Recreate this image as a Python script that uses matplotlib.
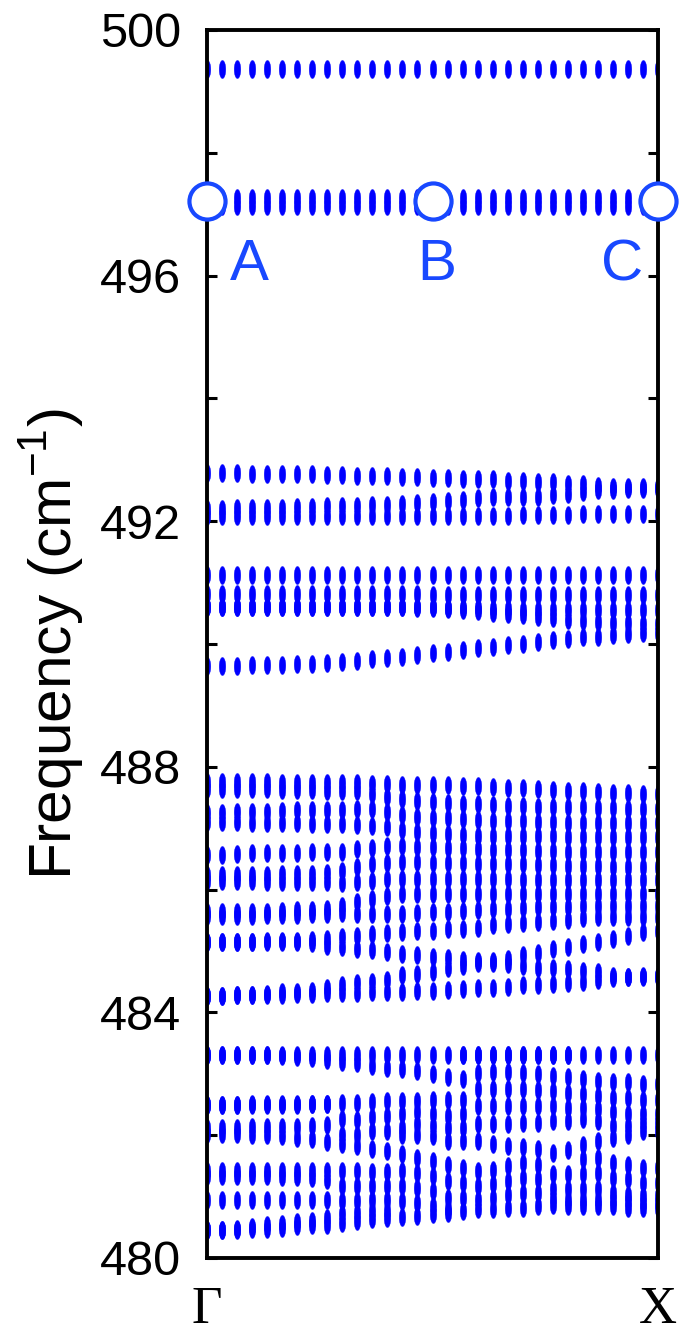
import numpy as np
import matplotlib.pyplot as plt
from matplotlib.path import Path

plt.rcParams['font.family'] = ['Liberation Sans', 'DejaVu Sans']
plt.rcParams['mathtext.fontset'] = 'custom'
plt.rcParams['mathtext.rm'] = 'Liberation Sans'

# 31 wavevectors along Gamma -> X
k = np.linspace(0, 1, 31)

# flat bands at the top
top_a = [499.37, 499.37, 499.37, 499.37, 499.37, 499.37, 499.37, 499.37, 499.37, 499.37, 499.37,
         499.37, 499.37, 499.37, 499.37, 499.37, 499.37, 499.37, 499.37, 499.37, 499.37,
         499.37, 499.37, 499.37, 499.37, 499.37, 499.37, 499.37, 499.37, 499.37, 499.37]
top_b = [497.26, 497.26, 497.26, 497.26, 497.26, 497.26, 497.26, 497.26, 497.26, 497.26, 497.26,
         497.26, 497.26, 497.26, 497.26, 497.26, 497.26, 497.26, 497.26, 497.26, 497.26,
         497.26, 497.26, 497.26, 497.26, 497.26, 497.26, 497.26, 497.26, 497.26, 497.26]
top_c = [497.14, 497.14, 497.14, 497.14, 497.14, 497.14, 497.14, 497.14, 497.14, 497.14, 497.14,
         497.14, 497.14, 497.14, 497.14, 497.14, 497.14, 497.14, 497.14, 497.14, 497.14,
         497.14, 497.14, 497.14, 497.14, 497.14, 497.14, 497.14, 497.14, 497.14, 497.14]

# bands around 492-493
g492_a = [492.78, 492.78, 492.78, 492.77, 492.77, 492.76, 492.76, 492.76, 492.75, 492.75, 492.74,
          492.74, 492.73, 492.72, 492.72, 492.71, 492.70, 492.69, 492.68, 492.68, 492.66,
          492.65, 492.64, 492.63, 492.61, 492.60, 492.58, 492.56, 492.56, 492.55, 492.55]
g492_b = [492.20, 492.20, 492.21, 492.21, 492.22, 492.22, 492.23, 492.23, 492.24, 492.24, 492.25,
          492.26, 492.27, 492.28, 492.29, 492.31, 492.33, 492.35, 492.37, 492.39, 492.39,
          492.39, 492.40, 492.42, 492.45, 492.48, 492.50, 492.51, 492.52, 492.52, 492.52]
g492_c = [492.09, 492.09, 492.09, 492.09, 492.09, 492.09, 492.09, 492.09, 492.09, 492.09, 492.09,
          492.09, 492.09, 492.09, 492.09, 492.09, 492.09, 492.09, 492.09, 492.09, 492.09,
          492.10, 492.10, 492.10, 492.10, 492.12, 492.12, 492.12, 492.12, 492.12, 492.12]

# bands around 490-491
g490_a = [491.13, 491.13, 491.13, 491.13, 491.13, 491.13, 491.13, 491.13, 491.13, 491.13, 491.13,
          491.13, 491.13, 491.13, 491.13, 491.13, 491.13, 491.13, 491.13, 491.13, 491.13,
          491.13, 491.13, 491.13, 491.13, 491.13, 491.13, 491.13, 491.13, 491.13, 491.13]
g490_b = [490.81, 490.81, 490.81, 490.81, 490.81, 490.81, 490.81, 490.81, 490.81, 490.81, 490.81,
          490.81, 490.81, 490.81, 490.81, 490.80, 490.80, 490.80, 490.80, 490.80, 490.80,
          490.80, 490.80, 490.80, 490.80, 490.80, 490.80, 490.80, 490.80, 490.80, 490.80]
g490_c = [490.61, 490.61, 490.61, 490.61, 490.61, 490.61, 490.61, 490.61, 490.61, 490.61, 490.61,
          490.61, 490.61, 490.61, 490.60, 490.60, 490.59, 490.58, 490.58, 490.57, 490.57,
          490.56, 490.56, 490.56, 490.56, 490.56, 490.56, 490.56, 490.56, 490.56, 490.56]
g490_d = [490.61, 490.61, 490.61, 490.61, 490.61, 490.61, 490.61, 490.61, 490.61, 490.61, 490.61,
          490.61, 490.60, 490.60, 490.59, 490.58, 490.57, 490.55, 490.53, 490.50, 490.49,
          490.47, 490.44, 490.42, 490.39, 490.37, 490.35, 490.34, 490.34, 490.33, 490.33]
g490_e = [489.64, 489.64, 489.64, 489.65, 489.65, 489.66, 489.67, 489.68, 489.69, 489.70, 489.73,
          489.75, 489.77, 489.79, 489.82, 489.85, 489.87, 489.90, 489.93, 489.95, 489.98,
          490.00, 490.04, 490.06, 490.08, 490.11, 490.12, 490.14, 490.16, 490.18, 490.18]

# bands between 484 and 488
g486_01 = [487.76, 487.76, 487.76, 487.75, 487.75, 487.74, 487.74, 487.74, 487.74, 487.73, 487.73,
           487.72, 487.72, 487.71, 487.71, 487.70, 487.70, 487.68, 487.68, 487.67, 487.66,
           487.65, 487.64, 487.62, 487.61, 487.60, 487.59, 487.58, 487.57, 487.56, 487.56]
g486_02 = [487.64, 487.64, 487.64, 487.63, 487.63, 487.62, 487.62, 487.62, 487.61, 487.61, 487.60,
           487.56, 487.51, 487.47, 487.45, 487.43, 487.41, 487.40, 487.39, 487.37, 487.36,
           487.36, 487.35, 487.35, 487.34, 487.34, 487.33, 487.33, 487.32, 487.32, 487.32]
g486_03 = [487.25, 487.25, 487.26, 487.27, 487.27, 487.28, 487.29, 487.29, 487.30, 487.30, 487.31,
           487.31, 487.27, 487.22, 487.19, 487.17, 487.16, 487.15, 487.13, 487.12, 487.11,
           487.11, 487.10, 487.10, 487.09, 487.09, 487.08, 487.08, 487.08, 487.08, 487.08]
g486_04 = [487.10, 487.10, 487.10, 487.09, 487.09, 487.08, 487.08, 487.07, 487.06, 487.06, 487.05,
           487.04, 487.02, 486.97, 486.94, 486.92, 486.90, 486.89, 486.88, 486.88, 486.87,
           486.87, 486.87, 486.87, 486.86, 486.86, 486.86, 486.86, 486.86, 486.86, 486.86]
g486_05 = [486.57, 486.57, 486.58, 486.59, 486.59, 486.60, 486.60, 486.61, 486.61, 486.62, 486.66,
           486.68, 486.71, 486.71, 486.70, 486.69, 486.68, 486.67, 486.66, 486.65, 486.65,
           486.64, 486.63, 486.63, 486.62, 486.62, 486.62, 486.61, 486.61, 486.61, 486.61]
g486_06 = [486.23, 486.23, 486.23, 486.24, 486.24, 486.25, 486.25, 486.26, 486.27, 486.31, 486.37,
           486.41, 486.43, 486.45, 486.45, 486.44, 486.44, 486.43, 486.42, 486.42, 486.41,
           486.41, 486.40, 486.40, 486.39, 486.38, 486.38, 486.37, 486.37, 486.37, 486.37]
g486_07 = [486.14, 486.14, 486.14, 486.14, 486.13, 486.13, 486.13, 486.13, 486.12, 486.11, 486.12,
           486.14, 486.17, 486.18, 486.18, 486.18, 486.18, 486.18, 486.17, 486.17, 486.17,
           486.16, 486.16, 486.16, 486.16, 486.15, 486.15, 486.15, 486.15, 486.15, 486.15]
g486_08 = [485.63, 485.63, 485.63, 485.64, 485.64, 485.65, 485.66, 485.67, 485.69, 485.73, 485.79,
           485.85, 485.89, 485.92, 485.93, 485.93, 485.93, 485.93, 485.93, 485.93, 485.93,
           485.93, 485.93, 485.93, 485.93, 485.93, 485.93, 485.93, 485.93, 485.93, 485.93]
g486_09 = [485.57, 485.57, 485.57, 485.57, 485.58, 485.58, 485.59, 485.60, 485.60, 485.62, 485.61,
           485.61, 485.61, 485.61, 485.62, 485.63, 485.64, 485.65, 485.67, 485.68, 485.69,
           485.70, 485.71, 485.71, 485.72, 485.73, 485.73, 485.74, 485.74, 485.74, 485.74]
g486_10 = [485.15, 485.15, 485.15, 485.15, 485.16, 485.16, 485.17, 485.18, 485.20, 485.22, 485.25,
           485.28, 485.30, 485.31, 485.32, 485.33, 485.35, 485.36, 485.38, 485.42, 485.44,
           485.45, 485.47, 485.49, 485.51, 485.53, 485.55, 485.55, 485.56, 485.56, 485.56]
g486_11 = [485.15, 485.15, 485.15, 485.15, 485.15, 485.15, 485.14, 485.13, 485.08, 485.06, 485.03,
           485.01, 484.98, 484.95, 484.94, 484.91, 484.88, 484.86, 484.83, 484.81, 484.78,
           484.76, 484.73, 484.72, 484.71, 484.68, 484.66, 484.60, 484.58, 484.58, 484.58]
g486_12 = [484.27, 484.27, 484.28, 484.29, 484.30, 484.33, 484.34, 484.35, 484.39, 484.44, 484.48,
           484.50, 484.53, 484.61, 484.63, 484.66, 484.72, 484.75, 484.81, 484.83, 484.87,
           484.93, 484.97, 485.03, 485.06, 485.12, 485.14, 485.20, 485.25, 485.31, 485.32]
g486_13 = [484.27, 484.27, 484.28, 484.28, 484.29, 484.29, 484.30, 484.30, 484.31, 484.32, 484.32,
           484.33, 484.33, 484.34, 484.35, 484.35, 484.37, 484.38, 484.39, 484.40, 484.42,
           484.44, 484.45, 484.46, 484.48, 484.50, 484.52, 484.56, 484.58, 484.59, 484.59]

# lowest group (480-483.5), listed per k-point from Gamma to X
g481_cols = [
    [483.30, 483.30, 482.49, 482.49, 482.12, 482.02, 481.41, 481.33, 480.95, 480.46, 480.46],
    [483.30, 483.30, 482.49, 482.49, 482.12, 482.02, 481.41, 481.33, 480.95, 480.46, 480.46],
    [483.30, 483.30, 482.49, 482.49, 482.12, 482.02, 481.41, 481.33, 480.95, 480.47, 480.46],
    [483.30, 483.30, 482.50, 482.49, 482.13, 482.01, 481.41, 481.33, 480.95, 480.50, 480.47],
    [483.30, 483.30, 482.50, 482.49, 482.13, 482.00, 481.41, 481.33, 480.95, 480.53, 480.48],
    [483.30, 483.29, 482.50, 482.49, 482.13, 481.99, 481.41, 481.32, 480.95, 480.55, 480.49],
    [483.30, 483.28, 482.50, 482.49, 482.14, 481.96, 481.41, 481.32, 480.95, 480.58, 480.52],
    [483.30, 483.26, 482.50, 482.50, 482.15, 481.93, 481.41, 481.31, 480.95, 480.61, 480.53],
    [483.30, 483.23, 482.51, 482.50, 482.17, 481.89, 481.41, 481.27, 480.95, 480.65, 480.54],
    [483.30, 483.19, 482.52, 482.26, 482.01, 481.85, 481.41, 481.17, 480.93, 480.72, 480.57],
    [483.30, 483.17, 482.53, 482.25, 482.01, 481.82, 481.41, 481.17, 480.93, 480.73, 480.60],
    [483.30, 483.13, 482.54, 482.30, 482.07, 481.77, 481.40, 481.17, 480.95, 480.76, 480.63],
    [483.30, 483.10, 482.55, 482.31, 482.07, 481.74, 481.40, 481.17, 480.95, 480.76, 480.65],
    [483.30, 483.07, 482.56, 482.34, 482.12, 482.01, 481.69, 481.41, 481.17, 480.93, 480.66],
    [483.30, 483.04, 482.56, 482.37, 482.18, 482.01, 481.63, 481.39, 481.14, 480.90, 480.68],
    [483.30, 482.99, 482.57, 482.34, 482.15, 481.99, 481.58, 481.33, 481.09, 480.84, 480.71],
    [483.30, 482.95, 482.58, 482.31, 482.11, 481.90, 481.52, 481.25, 480.98, 480.79, 480.73],
    [483.30, 483.30, 482.91, 482.58, 482.34, 482.12, 481.90, 481.47, 481.22, 480.98, 480.76],
    [483.30, 483.30, 483.02, 482.75, 482.48, 482.19, 481.90, 481.41, 481.17, 480.95, 480.79],
    [483.30, 483.30, 483.03, 482.75, 482.47, 482.18, 481.85, 481.44, 481.20, 480.98, 480.79],
    [483.30, 483.30, 483.03, 482.75, 482.47, 482.18, 481.82, 481.50, 481.25, 481.03, 480.82],
    [483.30, 483.30, 483.02, 482.75, 482.48, 482.20, 481.80, 481.55, 481.31, 481.06, 480.82],
    [483.30, 483.30, 482.99, 482.73, 482.47, 482.20, 481.77, 481.52, 481.28, 481.06, 480.84],
    [483.30, 483.30, 482.97, 482.72, 482.48, 482.23, 481.71, 481.36, 481.12, 480.98, 480.87],
    [483.30, 483.30, 482.94, 482.69, 482.45, 482.23, 481.76, 481.36, 481.12, 480.95, 480.84],
    [483.30, 482.91, 482.67, 482.45, 482.26, 481.84, 481.61, 481.36, 481.12, 480.95, 480.84],
    [483.30, 482.88, 482.64, 482.42, 482.23, 481.90, 481.63, 481.39, 481.12, 480.95, 480.84],
    [483.30, 482.87, 482.61, 482.37, 482.15, 481.95, 481.55, 481.31, 481.06, 480.95, 480.84],
    [483.30, 482.86, 482.60, 482.35, 482.15, 482.01, 481.52, 481.28, 481.03, 480.93, 480.82],
    [483.30, 482.83, 482.58, 482.34, 482.20, 482.07, 481.47, 481.22, 481.01, 480.90, 480.82],
    [483.30, 482.83, 482.58, 482.34, 482.20, 482.07, 481.47, 481.22, 481.01, 480.90, 480.82],
]

# marked modes
mark_k = [0.0, 0.5, 1.0]
mark_f = [497.21, 497.21, 497.21]
mark_names = ['A', 'B', 'C']
name_k = [0.094, 0.51, 0.92]
name_f = 495.92

yticks = [480, 484, 488, 492, 496, 500]

dot_col = '#0000ff'
mark_col = '#1848ff'

# thin vertical ellipse used as marker
t = np.linspace(0, 2 * np.pi, 41)
dot = Path(np.column_stack([0.36 * np.cos(t), np.sin(t)]))

fig = plt.figure(figsize=(6.86, 13.43), dpi=100)
ax = fig.add_axes([0.302, 0.0633, 0.657, 0.9144])

bands = [top_a, top_b, top_c, g492_a, g492_b, g492_c,
         g490_a, g490_b, g490_c, g490_d, g490_e,
         g486_01, g486_02, g486_03, g486_04, g486_05, g486_06, g486_07,
         g486_08, g486_09, g486_10, g486_11, g486_12, g486_13]
bands += list(np.array(g481_cols).T)

for b in bands:
    ax.plot(k, b, ls='none', marker=dot, ms=13, mfc=dot_col, mec=dot_col, mew=0.3)

ax.plot(mark_k, mark_f, ls='none', marker='o', ms=26, mfc='white', mec=mark_col,
        mew=3.0, clip_on=False, zorder=5)
for x, s in zip(name_k, mark_names):
    ax.text(x, name_f, s, color=mark_col, fontsize=42, ha='center', va='baseline')

ax.set_xlim(0, 1)
ax.set_ylim(480, 500)
ax.set_yticks(yticks)
ax.set_yticks([482, 486, 490, 494, 498], minor=True)
ax.set_xticks([0, 1])
ax.set_xticklabels(['Γ', 'X'], fontfamily='Liberation Serif', fontsize=38)
ax.tick_params(axis='y', which='both', direction='in', left=True, right=True,
               length=7, width=2.2, labelsize=35, pad=19)
ax.tick_params(axis='x', length=0, pad=20)
for sp in ax.spines.values():
    sp.set_linewidth(2.8)

ax.set_ylabel(r'Frequency (cm$^{\mathrm{-1}}$)', fontsize=43.5)
ax.yaxis.set_label_coords(-0.268, 0.5)

fig.savefig('out.png', dpi=100)
